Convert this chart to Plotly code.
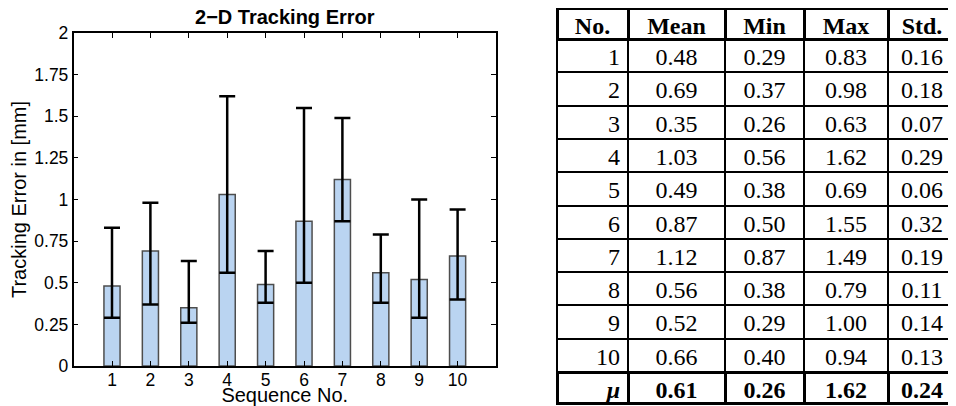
import plotly.graph_objects as go

# The page body has an 8px default margin, so the figure is drawn 8px smaller
# and every reference position is shifted by OFF.
OFF = 8
W, H = 956 - OFF, 406 - OFF

seq = [1, 2, 3, 4, 5, 6, 7, 8, 9, 10]
mean_v = [0.48, 0.69, 0.35, 1.03, 0.49, 0.87, 1.12, 0.56, 0.52, 0.66]
min_v = [0.29, 0.37, 0.26, 0.56, 0.38, 0.50, 0.87, 0.38, 0.29, 0.40]
max_v = [0.83, 0.98, 0.63, 1.62, 0.69, 1.55, 1.49, 0.79, 1.00, 0.94]
std_v = [0.16, 0.18, 0.07, 0.29, 0.06, 0.32, 0.19, 0.11, 0.14, 0.13]
overall_label = "μ"
overall_v = [0.61, 0.26, 1.62, 0.24]  # Mean, Min, Max, Std.

y_tickvals = [0, 0.25, 0.5, 0.75, 1, 1.25, 1.5, 1.75, 2]
y_ticktext = ["0", "0.25", "0.5", "0.75", "1", "1.25", "1.5", "1.75", "2"]
x_ticktext = [str(s) for s in seq]

table_header = ["No.", "Mean", "Min", "Max", "Std."]


def fx(xpix):
    return (xpix - OFF) / W


def fy(ypix):
    return max(0.0, min(1.0, 1 - (ypix - OFF) / H))


px0, px1 = 73.6, 496.0
py0, py1 = 33.0, 366.0

err_plus = [mx - m for mx, m in zip(max_v, mean_v)]
err_minus = [m - mn for m, mn in zip(mean_v, min_v)]

fig = go.Figure()
fig.add_trace(go.Bar(
    x=seq, y=mean_v, width=0.42,
    marker=dict(color="#bad4f1", line=dict(color="#4d4d4d", width=1.5)),
    error_y=dict(type="data", symmetric=False, array=err_plus, arrayminus=err_minus,
                 color="black", thickness=2.5, width=8),
    xaxis="x", yaxis="y", showlegend=False,
))


def fmt(v):
    return f"{v:.2f}"


col_no = [str(s) for s in seq]
col_mean = [fmt(v) for v in mean_v]
col_min = [fmt(v) for v in min_v]
col_max = [fmt(v) for v in max_v]
col_std = [fmt(v) for v in std_v]

colw = [71, 97, 79, 84, 68]
tx0 = 557
serif = "Liberation Serif"

fig.add_trace(go.Table(
    domain=dict(x=[fx(tx0), 1.0], y=[fy(373), fy(7)]),
    columnwidth=colw,
    header=dict(values=table_header, align="center", height=31,
                font=dict(family=serif, size=24, color="black", weight="bold"),
                line=dict(color="black", width=3), fill=dict(color="white")),
    cells=dict(values=[col_no, col_mean, col_min, col_max, col_std],
               align=["right", "center", "center", "center", "center"], height=33.3,
               font=dict(family=serif, size=24, color="black"),
               line=dict(color="black", width=2), fill=dict(color="white")),
))

# summary row (mean over all sequences)
fig.add_trace(go.Table(
    domain=dict(x=[fx(tx0), 1.0], y=[0.0, fy(372)]),
    columnwidth=colw,
    header=dict(values=[overall_label] + [fmt(v) for v in overall_v],
                align=["right", "center", "center", "center", "center"], height=31,
                font=dict(family=serif, size=24, color="black", weight="bold",
                          style=["italic", "normal", "normal", "normal", "normal"]),
                line=dict(color="black", width=3), fill=dict(color="white")),
    cells=dict(values=[[], [], [], [], []], height=1, line=dict(width=0)),
))

tick_font = dict(family="Liberation Sans, Arial", size=17.5, color="black")
lab_font = dict(family="Liberation Sans, Arial", size=20, color="black")
axis_common = dict(showline=True, linecolor="black", linewidth=1.5, mirror="ticks",
                   ticks="inside", ticklen=5, tickcolor="black", tickwidth=1,
                   showgrid=False, zeroline=False, tickfont=tick_font, automargin=False)

fig.update_layout(
    width=W, height=H,
    margin=dict(l=0, r=0, t=0, b=0, autoexpand=False),
    paper_bgcolor="white", plot_bgcolor="white",
    title=dict(text="<b>2−D Tracking Error</b>", x=fx((px0 + px1) / 2), xanchor="center",
               y=fy(16.5), yanchor="middle",
               font=dict(family="Liberation Sans, Arial", size=20, color="black")),
    xaxis=dict(domain=[fx(px0), fx(px1)], range=[0, 11], tickvals=seq, ticktext=x_ticktext,
               ticklabelstandoff=-3,
               title=dict(text="Sequence No.", standoff=5, font=lab_font),
               anchor="y", **axis_common),
    yaxis=dict(domain=[fy(py1), fy(py0)], range=[0, 2], tickvals=y_tickvals,
               ticktext=y_ticktext,
               title=dict(text="Tracking Error in [mm]", standoff=4, font=lab_font),
               anchor="x", **axis_common),
)

fig.write_html("out.html")
